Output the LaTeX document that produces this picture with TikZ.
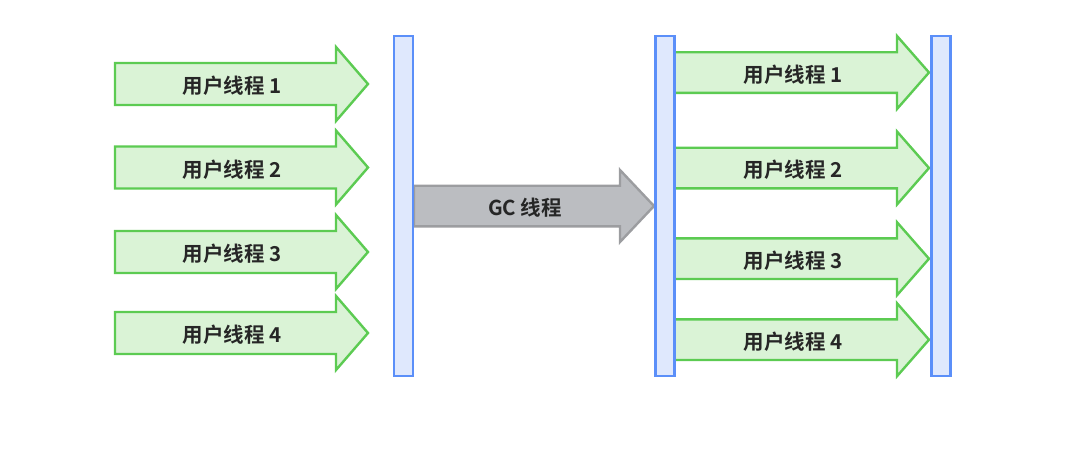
\documentclass[tikz,border=0pt]{standalone}
\usepackage{fontspec}
\setmainfont{Noto Sans CJK SC}[BoldFont={Noto Sans CJK SC Bold}]
\definecolor{gfill}{HTML}{DAF3D6}
\definecolor{gline}{HTML}{5CCB52}
\definecolor{bfill}{HTML}{DFE8FD}
\definecolor{bline}{HTML}{5B8FF9}
\definecolor{hfill}{HTML}{BBBDC1}
\definecolor{hline}{HTML}{9C9DA0}
\definecolor{txt}{HTML}{262626}
\tikzset{
  userarrow/.style={fill=gfill,draw=gline,line width=2.4pt,line join=miter},
  gcarrow/.style={fill=hfill,draw=hline,line width=2.4pt,line join=miter},
  barbox/.style={fill=bfill,draw=bline,line width=2.4pt},
  lbl/.style={text=txt,font=\bfseries\fontsize{20.5}{22}\selectfont,inner sep=0pt,anchor=center},
}
% #1 name, #2 x start, #3 head base x, #4 tip x, #5 center y, #6 body half, #7 head half, #8 style
\newcommand\myarrow[8]{%
  \path[#8] (#2,#5-#6) -- (#3,#5-#6) -- (#3,#5-#7) -- (#4,#5) -- (#3,#5+#7) -- (#3,#5+#6) -- (#2,#5+#6) -- cycle;
  \coordinate (#1) at (#2,#5);
}
\begin{document}
\begin{tikzpicture}[x=1pt,y=-1pt]
\useasboundingbox (0,0) rectangle (1090,448);
% left user arrows
\myarrow{la1}{115}{336}{368}{84}{21}{37}{userarrow}
\myarrow{la2}{115}{336}{368}{167.5}{21}{37}{userarrow}
\myarrow{la3}{115}{336}{368}{252}{21}{37}{userarrow}
\myarrow{la4}{115}{336}{368}{333}{21}{37}{userarrow}
\node[lbl] (t1) at (232,86) {用户线程 1};
\node[lbl] (t2) at (232,169.5) {用户线程 2};
\node[lbl] (t3) at (232,254) {用户线程 3};
\node[lbl] (t4) at (232,335) {用户线程 4};
% GC arrow
\myarrow{gc}{414}{620}{654}{206}{20.3}{36}{gcarrow}
\node[lbl] (tgc) at (525,208) {GC 线程};
% right user arrows
\myarrow{ra1}{674}{897}{929}{72.5}{20.3}{36.5}{userarrow}
\myarrow{ra2}{674}{897}{929}{168}{20.3}{36.5}{userarrow}
\myarrow{ra3}{674}{897}{929}{258.7}{20.3}{36.5}{userarrow}
\myarrow{ra4}{674}{897}{929}{339.7}{20.3}{36.5}{userarrow}
\node[lbl] (r1) at (793,74.5) {用户线程 1};
\node[lbl] (r2) at (793,170) {用户线程 2};
\node[lbl] (r3) at (793,260.7) {用户线程 3};
\node[lbl] (r4) at (793,341.7) {用户线程 4};
% bars
\node[barbox,inner sep=0pt,minimum width=19pt,minimum height=340pt] (bar1) at (403.5,206) {};
\node[barbox,inner sep=0pt,minimum width=19pt,minimum height=340pt] (bar2) at (665,206) {};
\node[barbox,inner sep=0pt,minimum width=19pt,minimum height=340pt] (bar3) at (941,206) {};
\end{tikzpicture}
\end{document}
